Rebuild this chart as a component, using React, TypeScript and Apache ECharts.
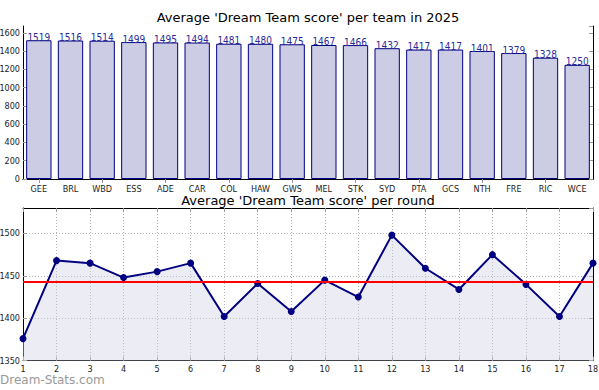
import React, { useEffect, useRef } from "react";
import * as echarts from "echarts";

const teams = ["GEE","BRL","WBD","ESS","ADE","CAR","COL","HAW","GWS","MEL","STK","SYD","PTA","GCS","NTH","FRE","RIC","WCE"];
const teamScores = [1519,1516,1514,1499,1495,1494,1481,1480,1475,1467,1466,1432,1417,1417,1401,1379,1328,1250];
const rounds = [1,2,3,4,5,6,7,8,9,10,11,12,13,14,15,16,17,18];
const roundScores = [1376,1468,1465,1448,1455,1465,1402,1441,1408,1445,1425,1498,1459,1434,1475,1440,1402,1465];
const roundAverage = 1443;

const FONT = "DejaVu Sans";
const COND = "DejaVu Sans Condensed";

export default function App() {
  const ref = useRef<HTMLDivElement>(null);
  useEffect(() => {
    const chart = echarts.init(ref.current!, null, { renderer: "svg" });
    const tickStyle = { show: true, inside: true, length: 4, lineStyle: { color: "#999", width: 1 } };
    const axisLine = { show: true, lineStyle: { color: "#000", width: 1 } };
    const fmt = (v: number) => String(v);
    const axisLabel = { color: "#222", fontFamily: COND, fontSize: 9, formatter: fmt };
    const dotted = { show: true, lineStyle: { color: "#b0b0b0", type: [1, 2], width: 1 } };
    chart.setOption({
      animation: false,
      backgroundColor: "#fff",
      title: [
        { text: "Average 'Dream Team score' per team in 2025", left: 308, top: 11, textAlign: "center",
          textStyle: { fontFamily: FONT, fontSize: 13, fontWeight: "normal", color: "#000" }, padding: 0 },
        { text: "Average 'Dream Team score' per round", left: 308, top: 194, textAlign: "center",
          textStyle: { fontFamily: FONT, fontSize: 13, fontWeight: "normal", color: "#000" }, padding: 0 },
      ],
      graphic: [
        { type: "text", left: 0, top: 374, style: { text: "Dream-Stats.com", font: "12px 'DejaVu Sans'", fill: "#999" } },
      ],
      grid: [
        { left: 23, top: 26, width: 570, height: 153, show: false, outerBoundsMode: "none", containLabel: false },
        { left: 23, top: 208, width: 570, height: 152.7, show: false, outerBoundsMode: "none", containLabel: false },
      ],
      xAxis: [
        { gridIndex: 0, type: "category", data: teams, position: "bottom", axisLine, axisTick: { ...tickStyle, alignWithLabel: true },
          axisLabel: { color: "#222", fontFamily: COND, fontSize: 9, margin: 5 }, splitLine: { show: false } },
        { gridIndex: 0, type: "category", data: teams, position: "top", axisLine, axisTick: { ...tickStyle, alignWithLabel: true },
          axisLabel: { show: false }, splitLine: { show: false } },
        { gridIndex: 1, type: "value", min: 1, max: 18, interval: 1, position: "bottom", axisLine, axisTick: tickStyle,
          axisLabel: { ...axisLabel, margin: 4 }, splitLine: dotted },
        { gridIndex: 1, type: "value", min: 1, max: 18, interval: 1, position: "top", axisLine, axisTick: tickStyle,
          axisLabel: { show: false }, splitLine: { show: false } },
      ],
      yAxis: [
        { gridIndex: 0, type: "value", min: 0, max: 1675, interval: 200, position: "left", axisLine, axisTick: tickStyle,
          axisLabel: { ...axisLabel, margin: 3, showMaxLabel: false }, splitLine: { show: false } },
        { gridIndex: 0, type: "value", min: 0, max: 1675, interval: 200, position: "right", axisLine, axisTick: tickStyle,
          axisLabel: { show: false }, splitLine: { show: false } },
        { gridIndex: 1, type: "value", min: 1350, max: 1530, interval: 50, position: "left", axisLine, axisTick: tickStyle,
          axisLabel: { ...axisLabel, margin: 3, showMaxLabel: false }, splitLine: dotted },
        { gridIndex: 1, type: "value", min: 1350, max: 1530, interval: 50, position: "right", axisLine, axisTick: tickStyle,
          axisLabel: { show: false }, splitLine: { show: false } },
      ],
      series: [
        {
          type: "bar", xAxisIndex: 0, yAxisIndex: 0, data: teamScores, barCategoryGap: "20%",
          itemStyle: { color: "#ccccE4", borderColor: "#000080", borderWidth: 1 },
          label: { show: true, position: "top", distance: -2, color: "#2a2a9a", fontFamily: COND, fontSize: 10 },
        },
        {
          type: "line", xAxisIndex: 2, yAxisIndex: 2, data: rounds.map((r, i) => [r, roundScores[i]]),
          symbol: "circle", symbolSize: 7, lineStyle: { color: "#000080", width: 2 },
          itemStyle: { color: "#000080" },
          areaStyle: { color: "rgba(210,210,232,0.6)", origin: "start" },
          markLine: {
            silent: true, symbol: "none", label: { show: false },
            lineStyle: { color: "#ff0000", width: 2, type: "solid" },
            data: [{ yAxis: roundAverage }],
          },
          z: 3,
        },
      ],
    });
    return () => chart.dispose();
  }, []);
  return <div ref={ref} style={{ width: 599, height: 390, position: "absolute", left: 0, top: 0 }} />;
}
